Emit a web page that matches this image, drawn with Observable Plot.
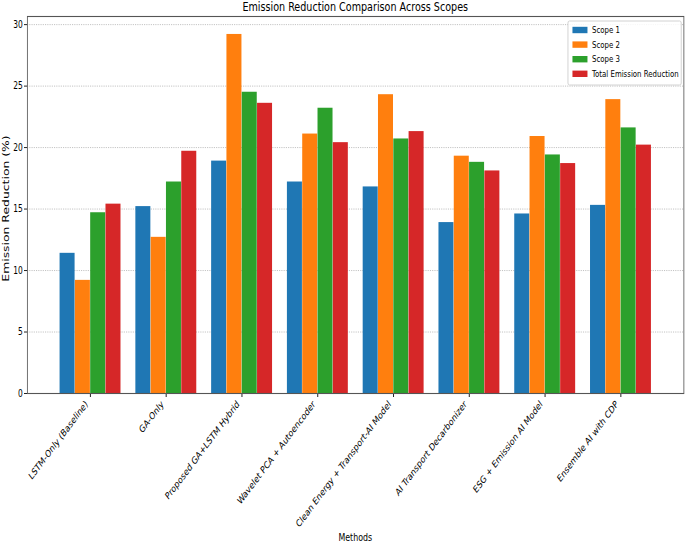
<!DOCTYPE html>
<html>
<head>
<meta charset="utf-8">
<script src="https://cdn.jsdelivr.net/npm/d3@7"></script>
<script src="https://cdn.jsdelivr.net/npm/@observablehq/plot@0.6"></script>
<style>
  html, body { margin: 0; padding: 0; background: #fff; overflow: hidden; }
  #chart svg { display: block; }
</style>
</head>
<body>
<div id="chart"></div>
<script>
const methods = [
  "LSTM-Only (Baseline)",
  "GA-Only",
  "Proposed GA+LSTM Hybrid",
  "Wavelet PCA + Autoencoder",
  "Clean Energy + Transport-AI Model",
  "AI Transport Decarbonizer",
  "ESG + Emission AI Model",
  "Ensemble AI with CDP"
];
const series = ["Scope 1", "Scope 2", "Scope 3", "Total Emission Reduction"];
const scope1 = [11.4, 15.2, 18.9, 17.2, 16.8, 13.9, 14.6, 15.3];
const scope2 = [9.2, 12.7, 29.2, 21.1, 24.3, 19.3, 20.9, 23.9];
const scope3 = [14.7, 17.2, 24.5, 23.2, 20.7, 18.8, 19.4, 21.6];
const total  = [15.4, 19.7, 23.6, 20.4, 21.3, 18.1, 18.7, 20.2];
const colors = ["#1f77b4", "#ff7f0e", "#2ca02c", "#d62728"];
const yTicks = [0, 5, 10, 15, 20, 25, 30];

const seriesValues = [scope1, scope2, scope3, total];

// The reference is horizontally compressed; draw on a wider virtual canvas and squeeze.
const S = 0.75;
const W = Math.round(685 / S);
const H = 544;
const mL = 36, mR = 2, mT = 16, mB = 151;

const xOpts = {type: "band", domain: methods, range: [mL, W - mR], paddingInner: 0.8, paddingOuter: 0.69};
const barW = Plot.scale({x: xOpts}).bandwidth;

const barMarks = series.map((s, j) =>
  Plot.barY(methods.map((m, i) => ({method: m, series: s, value: seriesValues[j][i]})), {
    x: "method", y: "value", fill: "series", dx: (j - 1.5) * barW, inset: 0
  })
);

const chart = Plot.plot({
  width: W,
  height: H,
  marginLeft: mL,
  marginRight: mR,
  marginTop: mT,
  marginBottom: mB,
  style: {fontFamily: "DejaVu Sans, sans-serif", fontSize: "10px", color: "#000", background: "#fff"},
  x: {...xOpts, label: null, tickRotate: -45, tickSize: 4, tickPadding: 2},
  y: {domain: [0, 30.66], ticks: yTicks, tickSize: 4, tickPadding: 2, label: null},
  color: {domain: series, range: colors},
  marks: [
    Plot.gridY(yTicks.filter(t => t > 0), {stroke: "#b0b0b0", strokeOpacity: 1, strokeWidth: 0.9, strokeDasharray: "1.5,1.5"}),
    ...barMarks,
    Plot.frame({stroke: "#555", strokeWidth: 1.1})
  ]
});

const svg = d3.select(chart);
const x0 = mL, x1 = W - mR;

// nudge rotated x tick labels so their right edge sits just left of the tick (matplotlib ha="right")
svg.selectAll('g[aria-label="x-axis tick label"]').each(function() {
  const t = this.getAttribute("transform") || "";
  this.setAttribute("transform", `translate(-5,3) ${t}`);
});

// title
svg.append("text")
  .attr("x", (x0 + x1) / 2).attr("y", 11.5)
  .attr("text-anchor", "middle")
  .attr("font-size", 12.8)
  .attr("fill", "#000")
  .text("Emission Reduction Comparison Across Scopes");

// x label
svg.append("text")
  .attr("x", (x0 + x1) / 2).attr("y", 541)
  .attr("text-anchor", "middle")
  .attr("font-size", 10.5)
  .attr("fill", "#000")
  .text("Methods");

// y label
svg.append("text")
  .attr("transform", `translate(11.5,208.5) rotate(-90)`)
  .attr("text-anchor", "middle")
  .attr("font-size", 12.4)
  .attr("fill", "#000")
  .text("Emission Reduction (%)");

// legend
const lg = svg.append("g");
const lx = 757, ly = 21, lw = 151, lh = 64;
lg.append("rect")
  .attr("x", lx).attr("y", ly).attr("width", lw).attr("height", lh)
  .attr("rx", 2).attr("fill", "#fff").attr("fill-opacity", 0.85)
  .attr("stroke", "#ccc").attr("stroke-width", 1);
series.forEach((s, i) => {
  const cy = 30 + i * 14.6;
  lg.append("rect")
    .attr("x", lx + 6).attr("y", cy - 3.2).attr("width", 20).attr("height", 6.4)
    .attr("fill", colors[i]);
  lg.append("text")
    .attr("x", lx + 32).attr("y", cy).attr("dy", "0.35em")
    .attr("text-anchor", "start")
    .attr("font-size", 9.3).attr("fill", "#000")
    .text(s);
});

chart.setAttribute("viewBox", `0 0 ${W} ${H}`);
chart.setAttribute("preserveAspectRatio", "none");
chart.setAttribute("width", 685);
chart.setAttribute("height", 544);
chart.style.width = "685px";
chart.style.height = "544px";
chart.style.maxWidth = "none";

document.getElementById("chart").appendChild(chart);
</script>
</body>
</html>
